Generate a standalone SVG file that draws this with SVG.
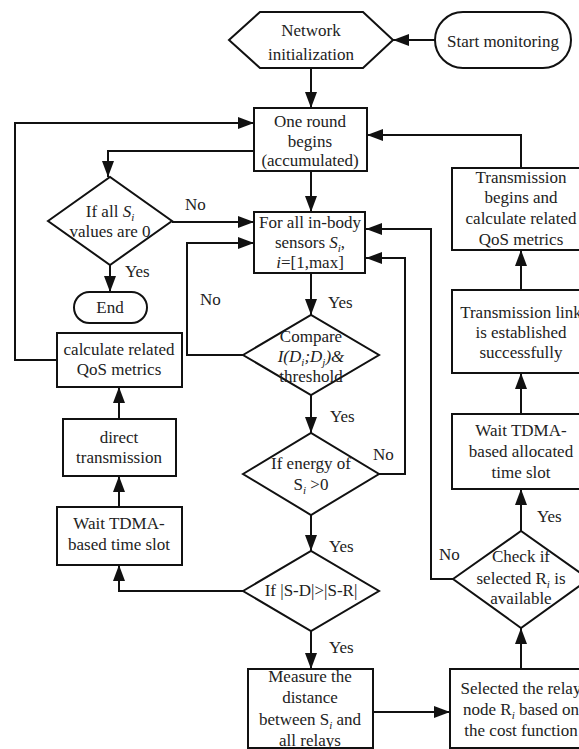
<svg xmlns="http://www.w3.org/2000/svg" width="579" height="749" viewBox="0 0 579 749">
<style>
.n{fill:#fff;stroke:#111;stroke-width:2}
.c{fill:none;stroke:#111;stroke-width:2}
text{font-family:"Liberation Serif","Times New Roman",serif;font-size:17px;fill:#222}
.m{text-anchor:middle}
</style>
<defs>
<marker id="a" markerUnits="userSpaceOnUse" markerWidth="16" markerHeight="12" refX="16" refY="6" orient="auto">
<path d="M0,0 L16,6 L0,12 z" fill="#111"/>
</marker>
</defs>
<rect width="579" height="749" fill="#fff"/>
<g id="connectors">
<path class="c" marker-end="url(#a)" d="M435,40 H393"/>
<path class="c" marker-end="url(#a)" d="M311,68 V108"/>
<path class="c" marker-end="url(#a)" d="M57,360 H15 V123 H254"/>
<path class="c" marker-end="url(#a)" d="M254,151 H108 V177"/>
<path class="c" marker-end="url(#a)" d="M172,222 H254"/>
<path class="c" marker-end="url(#a)" d="M110,265 V292"/>
<path class="c" marker-end="url(#a)" d="M311,171 V212"/>
<path class="c" marker-end="url(#a)" d="M521,168 V135 H367"/>
<path class="c" marker-end="url(#a)" d="M311,273 V315"/>
<path class="c" marker-end="url(#a)" d="M243,355 H187 V243 H254"/>
<path class="c" marker-end="url(#a)" d="M311,395 V433"/>
<path class="c" marker-end="url(#a)" d="M379,474 H405 V258 H366"/>
<path class="c" marker-end="url(#a)" d="M311,515 V551"/>
<path class="c" marker-end="url(#a)" d="M243,591 H119 V565"/>
<path class="c" marker-end="url(#a)" d="M119,507 V476"/>
<path class="c" marker-end="url(#a)" d="M119,419 V387"/>
<path class="c" marker-end="url(#a)" d="M311,631 V669"/>
<path class="c" marker-end="url(#a)" d="M373,712 H450"/>
<path class="c" marker-end="url(#a)" d="M521,669 V628"/>
<path class="c" marker-end="url(#a)" d="M453,579 H431 V229 H366"/>
<path class="c" marker-end="url(#a)" d="M521,531 V489"/>
<path class="c" marker-end="url(#a)" d="M521,414 V373"/>
<path class="c" marker-end="url(#a)" d="M521,290 V250"/>
<text x="185" y="210">No</text>
<text x="125" y="277">Yes</text>
<text x="200" y="305">No</text>
<text x="328" y="308">Yes</text>
<text x="330" y="422">Yes</text>
<text x="373" y="460">No</text>
<text x="329" y="552">Yes</text>
<text x="439" y="560">No</text>
<text x="537" y="522">Yes</text>
<text x="329" y="653">Yes</text>
</g>
<g id="network-init">
<polygon class="n" points="229,40 260,12 363,12 393,40 363,68 260,68"/>
<text class="m" x="311" y="36">Network</text>
<text class="m" x="311" y="60">initialization</text>
</g>
<g id="start-monitoring">
<rect class="n" x="435" y="12" width="136" height="56" rx="28"/>
<text class="m" x="503" y="47">Start monitoring</text>
</g>
<g id="one-round">
<rect class="n" x="254" y="108" width="113" height="63"/>
<text class="m" x="310" y="127">One round</text>
<text class="m" x="310" y="147">begins</text>
<text class="m" x="310" y="166">(accumulated)</text>
</g>
<g id="if-all">
<polygon class="n" points="48,221 110,177 172,221 110,265"/>
<text class="m" x="110" y="217">If all <tspan font-style="italic">S</tspan><tspan font-style="italic" font-size="11" dy="4">i</tspan></text>
<text class="m" x="110" y="237">values are 0</text>
</g>
<g id="end">
<rect class="n" x="74" y="292" width="73" height="31" rx="15.5"/>
<text class="m" x="110" y="313">End</text>
</g>
<g id="for-all">
<rect class="n" x="254" y="212" width="111" height="61"/>
<text class="m" x="310" y="228">For all in-body</text>
<text class="m" x="310" y="248">sensors <tspan font-style="italic">S</tspan><tspan font-style="italic" font-size="11" dy="4">i</tspan><tspan dy="-4">,</tspan></text>
<text class="m" x="310" y="268"><tspan font-style="italic">i</tspan>=[1,max]</text>
</g>
<g id="compare">
<polygon class="n" points="243,355 311,315 379,355 311,395"/>
<text class="m" x="311" y="342">Compare</text>
<text class="m" x="311" y="362" font-style="italic">I(D<tspan font-size="11" dy="4">i</tspan><tspan dy="-4">;D</tspan><tspan font-size="11" dy="4">j</tspan><tspan dy="-4">)&amp;</tspan></text>
<text class="m" x="311" y="382">threshold</text>
</g>
<g id="energy">
<polygon class="n" points="243,474 311,433 379,474 311,515"/>
<text class="m" x="311" y="469">If energy of</text>
<text class="m" x="311" y="490">S<tspan font-style="italic" font-size="11" dy="4">i</tspan><tspan dy="-4"> &gt;0</tspan></text>
</g>
<g id="if-sd">
<polygon class="n" points="243,591 311,551 379,591 311,631"/>
<text class="m" x="311" y="596">If |S-D|&gt;|S-R|</text>
</g>
<g id="measure">
<rect class="n" x="248" y="669" width="125" height="79"/>
<text class="m" x="310" y="682">Measure the</text>
<text class="m" x="310" y="703">distance</text>
<text class="m" x="310" y="725">between S<tspan font-style="italic" font-size="11" dy="4">i</tspan><tspan dy="-4"> and</tspan></text>
<text class="m" x="310" y="746">all relays</text>
</g>
<g id="selected">
<rect class="n" x="450" y="669" width="140" height="79"/>
<text class="m" x="521" y="694">Selected the relay</text>
<text class="m" x="521" y="715">node R<tspan font-style="italic" font-size="11" dy="4">i</tspan><tspan dy="-4"> based on</tspan></text>
<text class="m" x="521" y="736">the cost function</text>
</g>
<g id="check">
<polygon class="n" points="453,579 521,531 589,579 521,628"/>
<text class="m" x="521" y="562">Check if</text>
<text class="m" x="521" y="584">selected R<tspan font-style="italic" font-size="11" dy="4">i</tspan><tspan dy="-4"> is</tspan></text>
<text class="m" x="521" y="604">available</text>
</g>
<g id="wait-alloc">
<rect class="n" x="452" y="414" width="140" height="75"/>
<text class="m" x="521" y="436">Wait TDMA-</text>
<text class="m" x="521" y="457">based allocated</text>
<text class="m" x="521" y="478">time slot</text>
</g>
<g id="link">
<rect class="n" x="452" y="290" width="140" height="83"/>
<text class="m" x="521" y="318">Transmission link</text>
<text class="m" x="521" y="338">is established</text>
<text class="m" x="521" y="358">successfully</text>
</g>
<g id="trans-begins">
<rect class="n" x="452" y="168" width="140" height="82"/>
<text class="m" x="521" y="183">Transmission</text>
<text class="m" x="521" y="203">begins and</text>
<text class="m" x="521" y="224">calculate related</text>
<text class="m" x="521" y="245">QoS metrics</text>
</g>
<g id="calc-qos">
<rect class="n" x="57" y="333" width="125" height="54"/>
<text class="m" x="119" y="355">calculate related</text>
<text class="m" x="119" y="375">QoS metrics</text>
</g>
<g id="direct">
<rect class="n" x="63" y="419" width="113" height="57"/>
<text class="m" x="119" y="443">direct</text>
<text class="m" x="119" y="463">transmission</text>
</g>
<g id="wait-tdma">
<rect class="n" x="57" y="507" width="125" height="58"/>
<text class="m" x="119" y="529">Wait TDMA-</text>
<text class="m" x="119" y="550">based time slot</text>
</g>
</svg>
